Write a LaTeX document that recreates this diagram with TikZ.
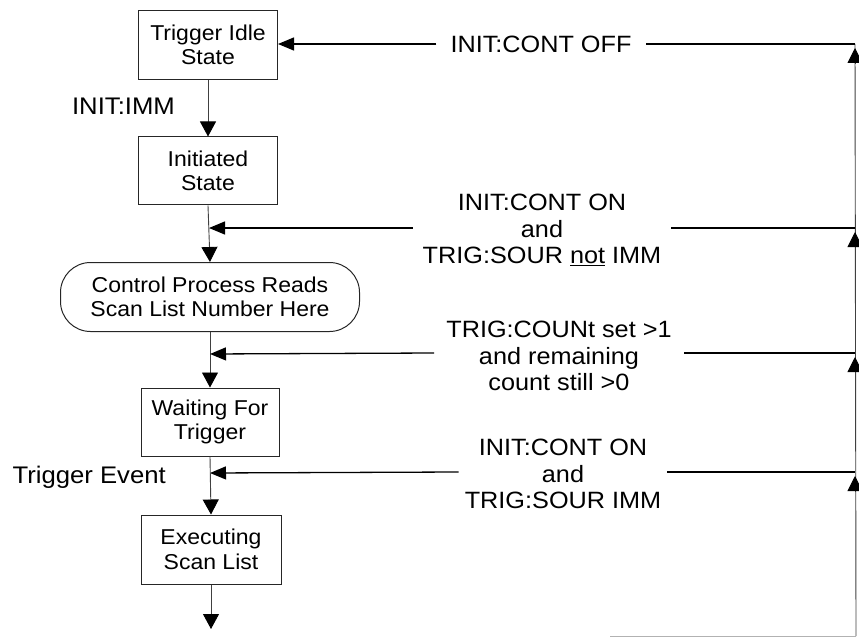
\documentclass[tikz,border=0pt]{standalone}
\usepackage{fontspec}
\setmainfont{Liberation Sans}[FakeStretch=1.07]
\usetikzlibrary{arrows.meta}
\tikzset{
  stbox/.style={draw=black!85, line width=1.0pt, rectangle, inner sep=0pt, align=center,
    minimum width=139pt, minimum height=69pt, font=\fontsize{21.5}{24.5}\selectfont},
  rbox/.style={stbox, rounded corners=30pt, minimum width=299pt},
  lbl/.style={align=center, inner xsep=10pt, inner ysep=0pt, font=\fontsize{23.6}{26.5}\selectfont},
  side/.style={inner sep=0pt, font=\fontsize{24}{26.5}\selectfont},
  ln/.style={line width=1.3pt},
  vln/.style={line width=0.9pt, draw=black!75},
  darr/.style={vln, -{Triangle[length=15pt,width=16pt,color=black,fill=black]}},
  larr/.style={ln, -{Triangle[length=16pt,width=13pt]}},
  uarr/.style={vln, -{Triangle[length=15pt,width=15pt,color=black,fill=black]}}
}
\begin{document}
\begin{tikzpicture}[x=1pt,y=-1pt]
\useasboundingbox (0,0) rectangle (859,639);
% main column
\node[stbox] (idle) at (208,45) {Trigger Idle\\State};
\node[stbox, minimum height=68pt] (init) at (208,171) {Initiated\\State};
\node[rbox] (ctrl) at (210,297) {Control Process Reads\\Scan List Number Here};
\node[stbox, minimum height=68pt, minimum width=138pt] (wait) at (210,422) {Waiting For\\Trigger};
\node[stbox, minimum width=140pt] (exec) at (211,549.5) {Executing\\Scan List};
\coordinate (end) at (211,629);
% junctions on main column
\coordinate (j1) at (209,228);
\coordinate (j2) at (210,354);
\coordinate (j3) at (210,473);
% side labels
\node[side, anchor=east] (imm) at (175,106) {INIT:IMM};
\node[side, anchor=east] (tev) at (166,477) {Trigger Event};
% flow arrows
\draw[darr] (idle.south) -- (init.north);
\draw[darr] (init.south) -- (ctrl.north);
\draw[darr] (ctrl.south) -- (wait.north);
\draw[darr] (wait.south) -- (exec.north);
\draw[darr] (exec.south) -- (end);
% right return line
\coordinate (r0) at (855,44);
\coordinate (r1) at (855,228);
\coordinate (r2) at (855,353);
\coordinate (r3) at (855,472);
\coordinate (rb) at (856,636);
\coordinate (bl) at (610,636);
\draw[vln] (rb) -- (r0);
\draw[line width=1pt, gray!60] (bl) -- (rb);
% labels on return branches
\node[lbl, inner xsep=14pt] (l0) at (541,44) {INIT:CONT OFF};
\node[lbl] (l1) at (542,230) {INIT:CONT ON\\and\\TRIG:SOUR \underline{not} IMM};
\node[lbl, inner xsep=12pt] (l2) at (559,356) {TRIG:COUNt set >1\\and remaining\\count still >0};
\node[lbl, inner xsep=6pt] (l3) at (563,474) {INIT:CONT ON\\and\\TRIG:SOUR IMM};
% branches
\draw[ln] (r0) -- (r0 -| l0.east);
\draw[larr] (l0.west |- r0) -- (idle.east |- r0);
\draw[ln] (r1) -- (r1 -| l1.east);
\draw[larr] (l1.west |- r1) -- (j1);
\draw[ln] (r2) -- (r2 -| l2.east);
\draw[larr] (l2.west |- r2) -- (j2);
\draw[ln] (r3) -- (r3 -| l3.east);
\draw[larr] (l3.west |- r3) -- (j3);
% upward arrowheads on return line
\draw[uarr] ([yshift=-20pt]r0) -- ([yshift=-4pt]r0);
\draw[uarr] ([yshift=-20pt]r1) -- ([yshift=-4pt]r1);
\draw[uarr] ([yshift=-20pt]r2) -- ([yshift=-4pt]r2);
\draw[uarr] ([yshift=-20pt]r3) -- ([yshift=-4pt]r3);
\end{tikzpicture}
\end{document}
